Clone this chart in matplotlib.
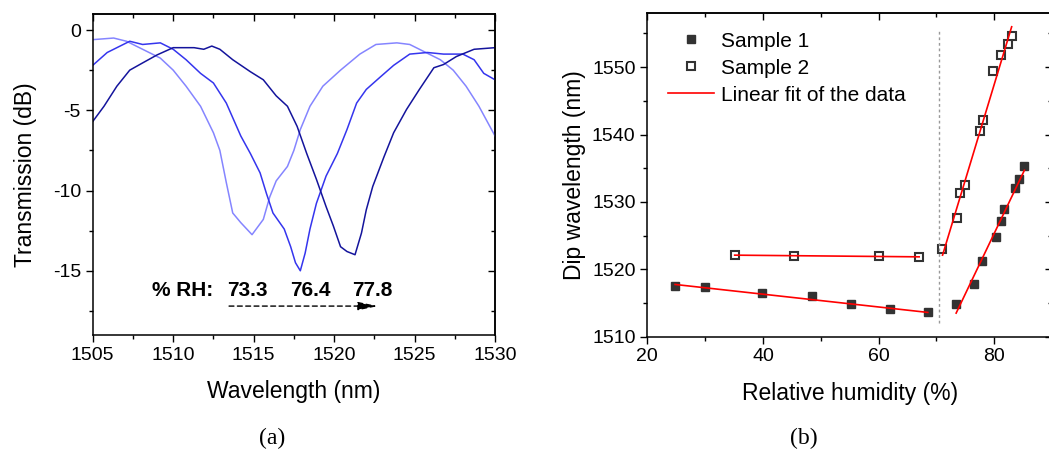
import numpy as np
import matplotlib
matplotlib.use('Agg')
import matplotlib.pyplot as plt
from matplotlib.ticker import MultipleLocator

plt.rcParams['font.family'] = ['Liberation Sans', 'DejaVu Sans']
plt.rcParams['axes.unicode_minus'] = False

# ---- panel (a): transmission spectra at three humidity levels ----
wl_733 = [1505, 1506.3, 1507.1, 1508.1, 1509.2, 1510, 1510.8, 1511.7, 1512.5, 1512.9,
          1513.3, 1513.7, 1514.2, 1514.9, 1515.6, 1516.0, 1516.4, 1517.1, 1517.5, 1517.9,
          1518.5, 1519.3, 1520.4, 1521.6, 1522.6, 1523.9, 1524.7, 1525.5, 1526.6, 1527.4,
          1528.2, 1529.0, 1530]
tr_733 = [-0.6, -0.5, -0.7, -1.2, -1.75, -2.5, -3.5, -4.75, -6.4, -7.5,
          -9.5, -11.4, -12.0, -12.75, -11.8, -10.4, -9.4, -8.5, -7.5, -6.2,
          -4.75, -3.5, -2.5, -1.5, -0.9, -0.8, -0.9, -1.3, -1.85, -2.5,
          -3.5, -4.75, -6.6]

wl_764 = [1505, 1505.9, 1507.3, 1508.1, 1509.2, 1510, 1510.8, 1511.7, 1512.5, 1513.3,
          1514.2, 1514.8, 1515.4, 1515.8, 1516.2, 1516.9, 1517.3, 1517.6, 1517.9, 1518.2,
          1518.5, 1518.9, 1519.5, 1520.2, 1520.8, 1521.4, 1522.0, 1522.9, 1523.7, 1524.7,
          1525.8, 1526.8, 1528.0, 1528.7, 1529.3, 1530]
tr_764 = [-2.2, -1.4, -0.7, -0.9, -0.8, -1.2, -1.85, -2.7, -3.3, -4.55,
          -6.6, -7.7, -8.9, -10.2, -11.4, -12.4, -13.5, -14.5, -15.0, -13.9,
          -12.4, -10.8, -9.1, -7.7, -6.2, -4.55, -3.7, -2.9, -2.2, -1.5,
          -1.4, -1.5, -1.5, -1.85, -2.7, -3.1]

wl_778 = [1505, 1505.7, 1506.5, 1507.3, 1508.1, 1509.0, 1510, 1511.3, 1511.9, 1512.4,
          1512.9, 1513.7, 1514.8, 1515.6, 1516.4, 1517.1, 1517.7, 1518.3, 1518.9, 1519.5,
          1519.95, 1520.4, 1520.8, 1521.3, 1521.7, 1522.0, 1522.4, 1523.1, 1523.7, 1524.5,
          1525.3, 1526.2, 1526.8, 1527.6, 1528.7, 1530]
tr_778 = [-5.7, -4.75, -3.5, -2.5, -2.05, -1.55, -1.1, -1.1, -1.2, -1.0,
          -1.2, -1.85, -2.6, -3.1, -4.1, -4.75, -6.0, -7.7, -9.3, -11.0,
          -12.2, -13.5, -13.8, -14.0, -12.65, -11.2, -9.75, -7.9, -6.4, -4.95,
          -3.7, -2.35, -2.15, -1.65, -1.2, -1.1]

rh_labels = ['73.3', '76.4', '77.8']
rh_label_x = [1514.6, 1518.5, 1522.4]

# ---- panel (b): dip wavelength vs relative humidity ----
rh_s1 = [24.8, 29.9, 39.9, 48.4, 55.2, 62.0, 68.5, 73.4, 76.5, 77.9, 80.3, 81.2, 81.7, 83.5, 84.3, 85.2]
dip_s1 = [1517.55, 1517.4, 1516.5, 1516.0, 1514.8, 1514.05, 1513.7, 1514.9, 1517.85, 1521.2,
          1524.8, 1527.2, 1528.9, 1532.0, 1533.4, 1535.3]
rh_s2 = [35.1, 45.3, 60.0, 67.0, 71.0, 73.5, 74.0, 75.0, 77.6, 78.0, 79.8, 81.1, 82.4, 83.0]
dip_s2 = [1522.1, 1521.95, 1521.95, 1521.85, 1523.0, 1527.6, 1531.3, 1532.5, 1540.5, 1542.1,
          1549.4, 1551.8, 1553.5, 1554.6]

# linear fits (end points of each fitted segment)
fit_s1_low_x, fit_s1_low_y = [24.8, 68.5], [1517.75, 1513.6]
fit_s1_high_x, fit_s1_high_y = [73.4, 85.2], [1513.5, 1534.7]
fit_s2_low_x, fit_s2_low_y = [35.1, 67.0], [1522.1, 1521.85]
fit_s2_high_x, fit_s2_high_y = [71.05, 83.0], [1522.1, 1556.0]
threshold_rh = 70.4

fig = plt.figure(figsize=(10.49, 4.58), dpi=100)
axA = fig.add_axes([0.0884, 0.2686, 0.3835, 0.7009])
axB = fig.add_axes([0.6171, 0.2649, 0.3859, 0.7061])

# panel (a)
axA.plot(wl_733, tr_733, color='#8585ff', lw=1.1)
axA.plot(wl_764, tr_764, color='#3535ee', lw=1.1)
axA.plot(wl_778, tr_778, color='#14149c', lw=1.1)
axA.set_xlim(1505, 1530)
axA.set_ylim(-19, 1)
axA.xaxis.set_major_locator(MultipleLocator(5))
axA.xaxis.set_minor_locator(MultipleLocator(2.5))
axA.yaxis.set_major_locator(MultipleLocator(5))
axA.yaxis.set_minor_locator(MultipleLocator(2.5))
axA.set_xlabel('Wavelength (nm)', fontsize=16.5, labelpad=12)
axA.set_ylabel('Transmission (dB)', fontsize=16.5, labelpad=11)
axA.text(1508.7, -16.2, '% RH:', fontsize=15, fontweight='bold', va='center', ha='left')
for lab, xpos in zip(rh_labels, rh_label_x):
    axA.text(xpos, -16.2, lab, fontsize=15, fontweight='bold', va='center', ha='center')
axA.annotate('', xy=(1522.9, -17.2), xytext=(1513.3, -17.2),
             arrowprops=dict(arrowstyle='-|>,head_length=1.2,head_width=0.25',
                             linestyle=(0, (3.5, 2.5)), color='black',
                             lw=1.0, mutation_scale=10))

# panel (b)
axB.plot(rh_s1, dip_s1, 's', color='#333333', ms=6, ls='none', label='Sample 1')
axB.plot(rh_s2, dip_s2, 's', mfc='white', mec='#333333', mew=1.5, ms=5.5, ls='none', label='Sample 2')
axB.plot(fit_s1_low_x, fit_s1_low_y, color='red', lw=1.2, label='Linear fit of the data')
axB.plot(fit_s1_high_x, fit_s1_high_y, color='red', lw=1.2)
axB.plot(fit_s2_low_x, fit_s2_low_y, color='red', lw=1.2)
axB.plot(fit_s2_high_x, fit_s2_high_y, color='red', lw=1.2)
axB.plot([threshold_rh, threshold_rh], [1512.0, 1555.3], color='#999999', lw=1.0, ls=(0, (2, 2)))
axB.set_xlim(20, 90)
axB.set_ylim(1510, 1558)
axB.xaxis.set_major_locator(MultipleLocator(20))
axB.xaxis.set_minor_locator(MultipleLocator(10))
axB.yaxis.set_major_locator(MultipleLocator(10))
axB.yaxis.set_minor_locator(MultipleLocator(5))
axB.set_xlabel('Relative humidity (%)', fontsize=16.5, labelpad=12)
axB.set_ylabel('Dip wavelength (nm)', fontsize=16.5, labelpad=4)
axB.legend(loc='upper left', frameon=False, fontsize=15, handlelength=2.2,
           handletextpad=0.35, labelspacing=0.38, borderaxespad=0, borderpad=0,
           bbox_to_anchor=(0.051, 0.943))

for ax in (axA, axB):
    for s in ax.spines.values():
        s.set_linewidth(1.1)
    ax.tick_params(which='both', labelsize=14, width=1.0, direction='out',
                   bottom=True, left=True)
    ax.tick_params(which='major', length=5)
    ax.tick_params(which='minor', length=3)
    # top/right ticks pointing inwards, without labels
    sec_x = ax.secondary_xaxis('top')
    sec_x.set_xticks(ax.get_xticks())
    sec_x.xaxis.set_minor_locator(ax.xaxis.get_minor_locator())
    sec_x.tick_params(which='both', direction='in', labeltop=False, width=1.0)
    sec_x.tick_params(which='major', length=5)
    sec_x.tick_params(which='minor', length=3)
    sec_y = ax.secondary_yaxis('right')
    sec_y.set_yticks(ax.get_yticks())
    sec_y.yaxis.set_minor_locator(ax.yaxis.get_minor_locator())
    sec_y.tick_params(which='both', direction='in', labelright=False, width=1.0)
    sec_y.tick_params(which='major', length=5)
    sec_y.tick_params(which='minor', length=3)
    sec_x.spines['top'].set_linewidth(1.1)
    sec_y.spines['right'].set_linewidth(1.1)

fig.text(0.259, 0.03, '(a)', fontsize=17, family=['Liberation Serif', 'DejaVu Serif'], ha='center')
fig.text(0.766, 0.03, '(b)', fontsize=17, family=['Liberation Serif', 'DejaVu Serif'], ha='center')

fig.savefig('out.png', dpi=100)
